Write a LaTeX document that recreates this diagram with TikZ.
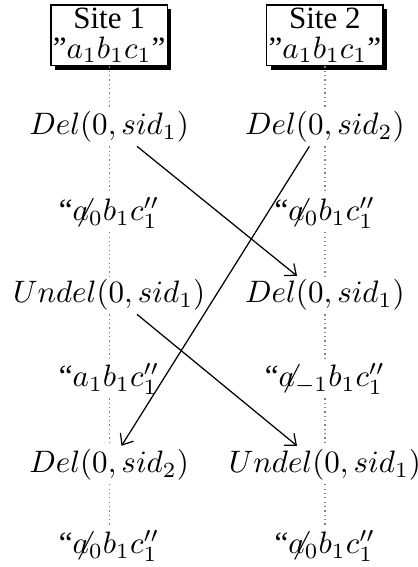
\documentclass[tikz,border=0pt]{standalone}
\usepackage[no-math]{fontspec}
\setmainfont{Liberation Serif}
\usetikzlibrary{shadows, arrows.meta}
\newcommand{\sla}{{\mkern1mu\not}\mkern-1mu a}
\begin{document}
\begin{tikzpicture}[>={Straight Barb[length=3pt,width=5pt]}, x=1pt, y=-1pt]
	\useasboundingbox (0,0) rectangle (134.8,182.9);
	\tikzset{sitebox/.style={draw, fill=white, align=center, inner xsep=0.6pt, inner ysep=1pt,
			drop shadow={shadow xshift=1.3pt, shadow yshift=-1.3pt, fill=black, opacity=1}},
		opnode/.style={inner sep=1pt},
		timeline/.style={densely dotted, gray}}
	\node[sitebox] (l0) at (35.2,11.4) {Site 1\\[-2.5pt]''$a_1b_1c_1$''};
	\node[sitebox] (r0) at (104.8,11.4) {Site 2\\[-2.5pt]''$a_1b_1c_1$''};
	\foreach \n/\y/\lab in {1/41/{$Del(0,sid_1)$},2/68.7/{``$\sla_0b_1c_1''$},3/95.2/{$Undel(0,sid_1)$},
		4/122.3/{``$a_1b_1c_1''$},5/150/{$Del(0,sid_2)$},6/176/{``$\sla_0b_1c_1''$}}{
		\node[opnode] (l\n) at (35.2,\y) {\lab};
	}
	\foreach \n/\y/\lab in {1/41/{$Del(0,sid_2)$},2/68.7/{``$\sla_0b_1c_1''$},3/95.2/{$Del(0,sid_1)$},
		4/122.3/{``$\sla_{-1}b_1c_1''$},5/150/{$Undel(0,sid_1)$},6/176/{``$\sla_0b_1c_1''$}}{
		\node[opnode] (r\n) at (104.8,\y) {\lab};
	}
	\foreach \i [evaluate=\i as \j using int(\i+1)] in {0,...,5}{
		\draw[timeline] (l\i) -- (l\j);
		\draw[timeline] (r\i) -- (r\j);
	}
	\draw[->] ([xshift=9pt]l1.south) -- ([xshift=-9pt]r3.north);
	\draw[->] ([xshift=-5pt]r1.south) -- ([xshift=4pt]l5.north);
	\draw[->] ([xshift=9pt]l3.south) -- ([xshift=-9pt]r5.north);
\end{tikzpicture}
\end{document}
